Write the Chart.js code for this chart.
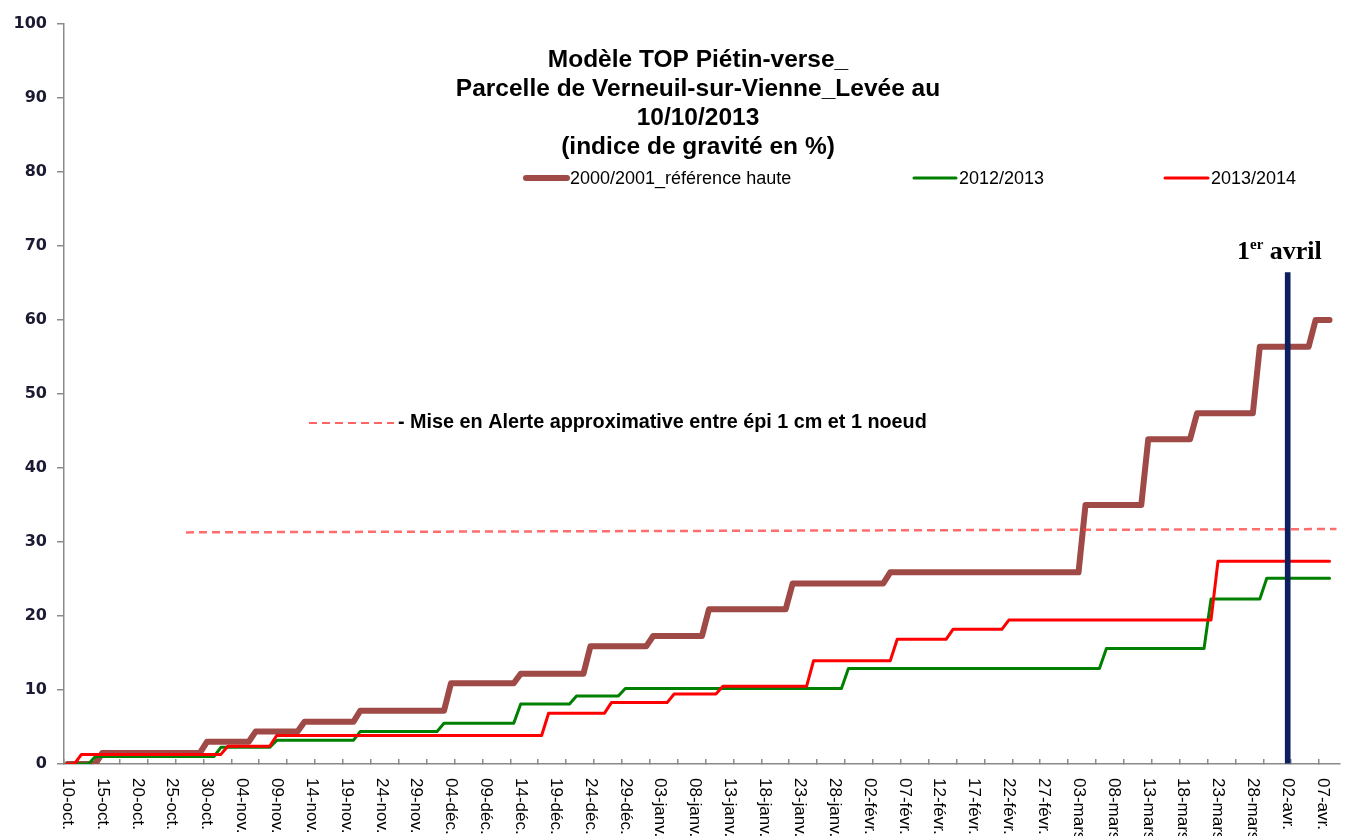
<!DOCTYPE html>
<html lang="fr">
<head>
<meta charset="utf-8">
<title>Modèle TOP Piétin-verse</title>
<script src="https://cdn.jsdelivr.net/npm/chart.js@4.4.1/dist/chart.umd.min.js"></script>
<style>
  html, body { margin: 0; padding: 0; background: #fff; }
  #wrap { width: 1365px; height: 836px; }
</style>
</head>
<body>
<div id="wrap"><canvas id="chart" width="1365" height="836"></canvas></div>
<script>
// ---- categories: one per day, 10-oct. to 09-avr. ----
const months = [
  ['oct.', 10, 31], ['nov.', 1, 30], ['déc.', 1, 31], ['janv.', 1, 31],
  ['févr.', 1, 29], ['mars', 1, 31], ['avr.', 1, 9]
];
const days = [];
months.forEach(([m, from, to]) => {
  for (let d = from; d <= to; d++) days.push(String(d).padStart(2, '0') + '-' + m);
});
const labelEvery = 5;   // a date label every 5 days
const tickEvery = 4;    // a tick mark every 4 days

// ---- series (corners of the steps) ----
const brownDates = ['10-oct.', '14-oct.', '15-oct.', '29-oct.', '30-oct.', '05-nov.', '06-nov.',
  '12-nov.', '13-nov.', '20-nov.', '21-nov.', '03-déc.', '04-déc.', '13-déc.', '14-déc.',
  '23-déc.', '24-déc.', '01-janv.', '02-janv.', '09-janv.', '10-janv.', '21-janv.', '22-janv.',
  '04-févr.', '05-févr.', '03-mars', '04-mars', '12-mars', '13-mars', '19-mars', '20-mars',
  '28-mars', '29-mars', '05-avr.', '06-avr.', '08-avr.'];
const brownValues = [0, 0, 1.5, 1.5, 3.0, 3.0, 4.4, 4.4, 5.7, 5.7, 7.2, 7.2, 10.9, 10.9, 12.2,
  12.2, 15.9, 15.9, 17.3, 17.3, 20.9, 20.9, 24.4, 24.4, 25.9, 25.9, 35.0, 35.0, 43.9, 43.9, 47.4,
  47.4, 56.4, 56.4, 60.0, 60.0];

const greenDates = ['10-oct.', '13-oct.', '14-oct.', '31-oct.', '01-nov.', '08-nov.', '09-nov.',
  '20-nov.', '21-nov.', '02-déc.', '03-déc.', '13-déc.', '14-déc.', '21-déc.', '22-déc.',
  '28-déc.', '29-déc.', '29-janv.', '30-janv.', '06-mars', '07-mars', '21-mars', '22-mars',
  '29-mars', '30-mars', '08-avr.'];
const greenValues = [0, 0, 1.0, 1.0, 2.25, 2.25, 3.2, 3.2, 4.4, 4.4, 5.5, 5.5, 8.1, 8.1, 9.2,
  9.2, 10.2, 10.2, 12.9, 12.9, 15.6, 15.6, 22.3, 22.3, 25.1, 25.1];

const redDates = ['10-oct.', '11-oct.', '12-oct.', '01-nov.', '02-nov.', '08-nov.', '09-nov.',
  '17-déc.', '18-déc.', '26-déc.', '27-déc.', '04-janv.', '05-janv.', '11-janv.', '12-janv.',
  '24-janv.', '25-janv.', '05-févr.', '06-févr.', '13-févr.', '14-févr.', '21-févr.', '22-févr.',
  '22-mars', '23-mars', '08-avr.'];
const redValues = [0, 0, 1.3, 1.3, 2.4, 2.4, 3.85, 3.85, 6.85, 6.85, 8.3, 8.3, 9.45, 9.45, 10.5,
  10.5, 13.95, 13.95, 16.85, 16.85, 18.2, 18.2, 19.45, 19.45, 27.4, 27.4];

// alert threshold (dashed) and the "1er avril" marker
const alertDates = ['27-oct.', '09-avr.'];
const alertValues = [31.3, 31.75];
const markerDate = '02-avr.';
const markerValue = 66.4;

const titleLines = ['Modèle TOP Piétin-verse_', 'Parcelle de Verneuil-sur-Vienne_Levée au',
  '10/10/2013', '(indice de gravité en %)'];
const alertText = '- Mise en Alerte approximative entre épi 1 cm et 1 noeud';

const BROWN = '#9f4a46', GREEN = '#008000', RED = '#ff0000', NAVY = '#0c1f5f';
const AXIS = '#8a8a8a';

function pts(dates, values) {
  return dates.map((d, i) => ({ x: d, y: values[i] }));
}

// text drawn over the chart: rotated date labels, title, legend, notes
const overlay = {
  id: 'overlay',
  afterDraw(chart) {
    const c = chart.ctx;
    const xs = chart.scales.x;
    c.save();

    c.fillStyle = '#000';
    c.font = '17px "Liberation Sans", Arial, sans-serif';
    c.textAlign = 'left';
    c.textBaseline = 'middle';
    days.forEach((d, i) => {
      if (i % labelEvery) return;
      c.save();
      c.translate(xs.getPixelForValue(i), xs.top + 14);
      c.rotate(Math.PI / 2);
      c.fillText(d, 0, 0);
      c.restore();
    });

    // title
    c.textAlign = 'center';
    c.font = 'bold 24.5px "Liberation Sans", Arial, sans-serif';
    titleLines.forEach((t, i) => c.fillText(t, 698, 60 + i * 29));

    // legend
    const legend = [
      { text: '2000/2001_référence haute', color: BROWN, w: 6, x0: 526, x1: 567 },
      { text: '2012/2013', color: GREEN, w: 3, x0: 914, x1: 956 },
      { text: '2013/2014', color: RED, w: 3, x0: 1165, x1: 1208 }
    ];
    c.textAlign = 'left';
    c.font = '18px "Liberation Sans", Arial, sans-serif';
    legend.forEach(it => {
      c.strokeStyle = it.color;
      c.lineWidth = it.w;
      c.lineCap = 'round';
      c.beginPath();
      c.moveTo(it.x0, 178);
      c.lineTo(it.x1, 178);
      c.stroke();
      c.fillText(it.text, it.x1 + 3, 179);
    });

    // alert note
    c.strokeStyle = 'rgba(255,60,60,0.8)';
    c.lineWidth = 2;
    c.lineCap = 'butt';
    c.setLineDash([8, 5]);
    c.beginPath();
    c.moveTo(309, 423);
    c.lineTo(394, 423);
    c.stroke();
    c.setLineDash([]);
    c.font = 'bold 19.8px "Liberation Sans", Arial, sans-serif';
    c.fillText(alertText, 398, 423);

    // 1er avril
    c.textBaseline = 'alphabetic';
    c.font = 'bold 26px "Liberation Serif", "Times New Roman", serif';
    c.fillText('1', 1237, 259);
    let x = 1237 + c.measureText('1').width;
    c.font = 'bold 15px "Liberation Serif", "Times New Roman", serif';
    c.fillText('er', x, 249);
    x += c.measureText('er').width;
    c.font = 'bold 26px "Liberation Serif", "Times New Roman", serif';
    c.fillText(' avril', x, 259);

    c.restore();
  }
};

const line = (data, color, width) => ({
  type: 'line', data, borderColor: color, borderWidth: width,
  pointRadius: 0, tension: 0, fill: false,
  borderJoinStyle: 'round', borderCapStyle: 'round'
});

new Chart(document.getElementById('chart'), {
  type: 'line',
  data: {
    labels: days,
    datasets: [
      { type: 'bar', label: '1er avril', data: [{ x: markerDate, y: markerValue }],
        backgroundColor: NAVY, barThickness: 5 },
      Object.assign(line(pts(alertDates, alertValues), 'rgba(255,60,60,0.75)', 2.5),
        { label: 'Alerte', borderDash: [8, 5], borderCapStyle: 'butt' }),
      Object.assign(line(pts(redDates, redValues), RED, 3), { label: '2013/2014' }),
      Object.assign(line(pts(greenDates, greenValues), GREEN, 3), { label: '2012/2013' }),
      Object.assign(line(pts(brownDates, brownValues), BROWN, 6), { label: '2000/2001_référence haute' })
    ]
  },
  options: {
    responsive: false,
    animation: false,
    layout: { padding: { top: 24, right: 25, left: 0, bottom: 0 } },
    plugins: { legend: { display: false }, tooltip: { enabled: false } },
    scales: {
      x: {
        type: 'category',
        offset: true,
        grid: {
          offset: true,
          drawOnChartArea: false,
          tickLength: -5,
          lineWidth: 1.5,
          color: (ctx) => (ctx.index % tickEvery === 0 ? AXIS : 'rgba(0,0,0,0)')
        },
        border: { color: AXIS, width: 1.5 },
        ticks: { display: false, autoSkip: false },
        afterFit: (s) => { s.height = 72; }
      },
      y: {
        min: 0,
        max: 100,
        ticks: {
          stepSize: 10,
          padding: 10,
          color: '#1a1a33',
          font: { family: 'DejaVu Sans', weight: 'bold', size: 16 }
        },
        grid: { drawOnChartArea: false, tickLength: 7, color: AXIS, lineWidth: 1.5 },
        border: { color: AXIS, width: 1.5 },
        afterFit: (s) => { s.width = 64; }
      }
    }
  },
  plugins: [overlay]
});
</script>
</body>
</html>
